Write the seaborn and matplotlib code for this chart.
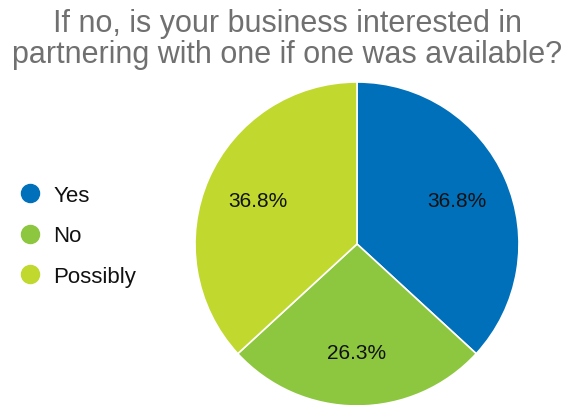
import matplotlib
matplotlib.use("Agg")
import matplotlib.pyplot as plt
from matplotlib.lines import Line2D
import seaborn as sns

title_lines = ["If no, is your business interested in",
               "partnering with one if one was available?"]
categories = ["Yes", "No", "Possibly"]
shares = [36.8, 26.3, 36.8]
colors = ["#0070BA", "#8DC63F", "#C1D82F"]

sns.set_theme(style="white")
plt.rcParams["font.family"] = ["Liberation Sans", "DejaVu Sans"]
palette = sns.color_palette(colors)

W, H = 571, 406
fig = plt.figure(figsize=(W / 100, H / 100), dpi=100)
fig.patch.set_facecolor("white")

# pie occupies a 324 px square on the right-hand side
ax = fig.add_axes([195 / W, -1 / H, 324 / W, 324 / H])
wedges, _, autotexts = ax.pie(
    shares,
    colors=palette,
    startangle=90,
    counterclock=False,
    autopct="%.1f%%",
    pctdistance=0.67,
    wedgeprops=dict(edgecolor="white", linewidth=1.2),
    textprops=dict(fontsize=15, color="#111111"),
)
ax.set_aspect("equal")
ax.set_xlim(-1.0, 1.0)
ax.set_ylim(-1.0, 1.0)

# two-line title, each line placed on its own baseline
for line, base in zip(title_lines, [32, 63]):
    fig.text(0.503, 1 - base / H, line, ha="center", va="baseline",
             fontsize=22, color="#707070")

handles = [
    Line2D([0], [0], marker="o", linestyle="none", markersize=13,
           markerfacecolor=c, markeredgecolor=c)
    for c in palette
]
fig.legend(handles, categories, loc="center left",
           bbox_to_anchor=(10 / W, 1 - 237 / H), frameon=False, fontsize=16,
           labelspacing=0.88, handletextpad=0.54, handlelength=1.0,
           borderaxespad=0.0, labelcolor="#111111")

fig.savefig("out.png", dpi=100)
